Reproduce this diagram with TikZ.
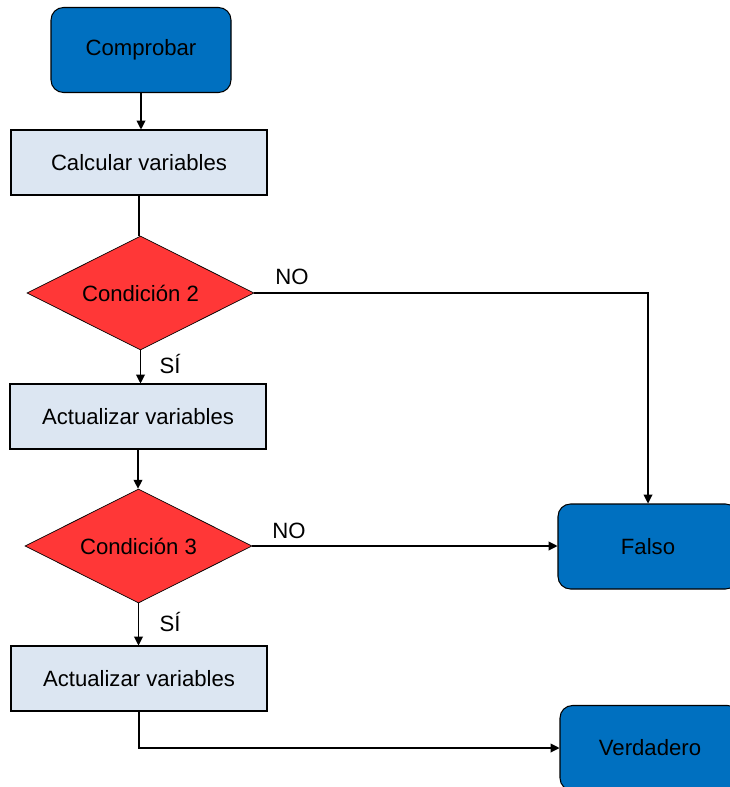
\documentclass[tikz,border=0pt]{standalone}
\usepackage{fontspec}
\setmainfont{Liberation Sans}
\usetikzlibrary{shapes.geometric,arrows.meta}
\definecolor{azul}{HTML}{0070C0}
\definecolor{celeste}{HTML}{DCE6F2}
\definecolor{rojo}{HTML}{FF3737}
\begin{document}
\begin{tikzpicture}[font=\fontsize{12.6}{15}\selectfont,
    inicio/.style={draw,fill=azul,rounded corners=0.25cm,minimum width=3.6cm,minimum height=1.7cm,line width=0.6pt},
    proceso/.style={draw,fill=celeste,minimum width=5.12cm,minimum height=1.3cm,line width=0.6pt},
    decision/.style={draw,fill=rojo,diamond,aspect=2,minimum width=4.54cm,minimum height=2.28cm,inner sep=0pt,line width=0.4pt},
    flecha/.style={-{Triangle[length=5pt,width=5pt]},line width=0.6pt},
    linea/.style={line width=0.6pt}]
            \useasboundingbox (0,0) rectangle (14.58,-15.74);
            \node[inicio] (comprobar) at (2.82,-1.0){Comprobar};
            \node[proceso] (calcular) at (2.78,-3.25){Calcular variables};
            \node[decision] (cond2) at (2.81,-5.86){Condición 2};
            \node[proceso] (actualizar1) at (2.76,-8.33){Actualizar variables};
            \node[decision] (cond3) at (2.77,-10.92){Condición 3};
            \node[proceso] (actualizar2) at (2.78,-13.57){Actualizar variables};
            \node[inicio] (falso) at (12.96,-10.93){Falso};
            \node[inicio] (verdadero) at (13.0,-14.96){Verdadero};
            \draw[flecha](comprobar.south)--(comprobar.south|-calcular.north);
            \draw[linea](calcular.south)--(calcular.south|-cond2.north);
            \draw[flecha](cond2.south)--(cond2.south|-actualizar1.north) node (si2) at (3.4,-7.28){SÍ};
            \draw[flecha](actualizar1.south)--(actualizar1.south|-cond3.north);
            \draw[flecha](cond3.south)--(cond3.south|-actualizar2.north) node (si3) at (3.4,-12.44){SÍ};
            \draw[flecha](cond2.east)-|(falso.north) node (no2) at (5.84,-5.54){NO};
            \draw[flecha](cond3.east)--(cond3.east-|falso.west) node (no3) at (5.78,-10.62){NO};
            \draw[flecha](actualizar2.south)|-(verdadero.west);
        \end{tikzpicture}
\end{document}
